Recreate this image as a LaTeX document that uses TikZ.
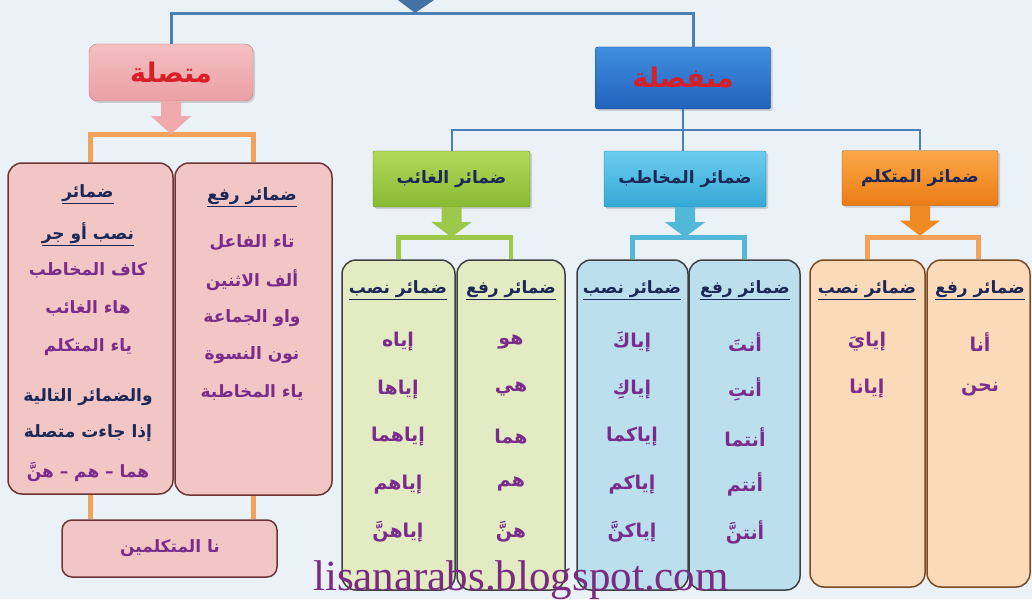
\documentclass[tikz,border=0pt]{standalone}
\usepackage{fontspec}
\setmainfont{Liberation Serif}
\newfontfamily\arabicfont[Script=Arabic]{DejaVu Sans}
\TeXXeTstate=1
\usetikzlibrary{calc,shadows}

\definecolor{bgcol}{HTML}{EAF2F8}
\definecolor{linkblue}{HTML}{4A80B6}
\definecolor{navy}{HTML}{1C2858}
\definecolor{purp}{HTML}{7A2C8C}
\definecolor{redtxt}{HTML}{D81E26}
\definecolor{pinkfill}{HTML}{F1C6C4}
\definecolor{pinkline}{HTML}{6E3535}
\definecolor{pinkarr}{HTML}{F0A9AD}
\definecolor{pinktop}{HTML}{F5BFC2}
\definecolor{pinkbot}{HTML}{EBA0A5}
\definecolor{munftop}{HTML}{3F8EE0}
\definecolor{munfbot}{HTML}{2262BC}
\definecolor{orbr}{HTML}{F2A25A}
\definecolor{greenfill}{HTML}{E2EBC2}
\definecolor{greenbr}{HTML}{9CC84C}
\definecolor{greentop}{HTML}{B2D95A}
\definecolor{greenbot}{HTML}{88BA32}
\definecolor{bluefill}{HTML}{BCDFEE}
\definecolor{bluebr}{HTML}{52B8D9}
\definecolor{bluetop}{HTML}{6CCDEE}
\definecolor{bluebot}{HTML}{34A9D6}
\definecolor{orfill}{HTML}{FBDAB9}
\definecolor{orline}{HTML}{7A4A22}
\definecolor{orarr}{HTML}{EF8A22}
\definecolor{ortop}{HTML}{FBA848}
\definecolor{orbot}{HTML}{EC7C14}
\definecolor{wmark}{HTML}{7B2A82}

\newcommand{\ar}[1]{{\arabicfont\bfseries\beginR #1\endR}}
% block arrow under a header box
\newcommand{\blockarrow}[4]{%
  \fill[#2] (#1.south) ++(-10,0) -- ++(0,#3) -- ++(-10,0) -- ++(20,#4)
    -- ++(20,-#4) -- ++(-10,0) -- ++(0,-#3) -- cycle;}

\begin{document}
\begin{tikzpicture}[x=1pt,y=-1pt,
  col/.style={draw, line width=1.5pt, rounded corners=14pt, minimum height=330pt, inner sep=0pt},
  head/.style={rounded corners=2pt, minimum height=56pt, inner sep=0pt, text=navy,
    font=\fontsize{17}{20}\selectfont,
    drop shadow={opacity=0.3, shadow xshift=2pt, shadow yshift=-2pt}},
  title/.style={text=redtxt, font=\fontsize{27}{30}\selectfont},
  hdtxt/.style={font=\fontsize{17}{20}\selectfont, text=navy},
  itm/.style={font=\fontsize{19}{22}\selectfont, text=purp},
  pitm/.style={font=\fontsize{17}{20}\selectfont, text=purp},
  link/.style={linkblue, line width=3pt},
  brack/.style={line width=4.5pt}]
	\fill[bgcol] (0,0) rectangle (1032,599);
	\useasboundingbox (0,0) rectangle (1032,599);

	% top level
	\fill[linkblue!90!black] (398,0) -- (434,0) -- (415,13) -- cycle;
	\coordinate (top) at (415,14);
	\node[head, title, rounded corners=8pt, minimum width=164pt, minimum height=57pt,
	  top color=pinktop, bottom color=pinkbot, draw=pinkbot!80!black]
	  (mutt) at (171,72.5) {\ar{متصلة}};
	\node[head, title, minimum width=175pt, minimum height=62pt,
	  top color=munftop, bottom color=munfbot, draw=munfbot!70!black]
	  (munf) at (683,78) {\ar{منفصلة}};
	\draw[link] (mutt.north) |- (top) -| ([xshift=10pt]munf.north);

	% second level
	\node[head, minimum width=157pt, top color=greentop, bottom color=greenbot, draw=greenbot!70!black]
	  (ghead) at (451.5,179) {\ar{ضمائر الغائب}};
	\node[head, minimum width=162pt, top color=bluetop, bottom color=bluebot, draw=bluebot!70!black]
	  (bhead) at (685,179) {\ar{ضمائر المخاطب}};
	\node[head, minimum width=156pt, minimum height=55pt, top color=ortop, bottom color=orbot, draw=orbot!70!black]
	  (ohead) at (920,178) {\ar{ضمائر المتكلم}};
	\coordinate (split) at ($(munf.south)!0.5!(bhead.north)$);
	\draw[link, line width=2pt] (munf.south) -- (munf.south |- bhead.north);
	\draw[link, line width=2pt] (ghead.north) |- (split) -| (ohead.north);

	% attached (pink) group
	\node[col, fill=pinkfill, draw=pinkline, minimum width=165pt, minimum height=331pt] (pl) at (90.5,328.5) {};
	\node[col, fill=pinkfill, draw=pinkline, minimum width=157pt, minimum height=332pt] (pr) at (253.5,329) {};
	\node[col, rounded corners=10pt, fill=pinkfill, draw=pinkline, minimum width=215pt, minimum height=57pt] (na) at (169.5,548.5) {};
	\draw[brack, orbr] (pl.north) -- ++(0,-28) -| (pr.north);
	\draw[brack, orbr] (pl.south) -- (pl.south |- na.north);
	\draw[brack, orbr] (pr.south) -- (pr.south |- na.north);
	\blockarrow{mutt}{pinkarr}{15}{18}

	\node[hdtxt] (plh1) at (88,194) {\underline{\ar{ضمائر}}};
	\node[hdtxt] (plh2) at (88,234) {\underline{\ar{نصب أو جر}}};
	\node[pitm] (pl1) at (88,270) {\ar{كاف المخاطب}};
	\node[pitm] (pl2) at (88,308) {\ar{هاء الغائب}};
	\node[pitm] (pl3) at (88,347) {\ar{ياء المتكلم}};
	\node[hdtxt] (pl4) at (88,397) {\ar{والضمائر التالية}};
	\node[hdtxt] (pl5) at (88,433) {\ar{إذا جاءت متصلة}};
	\node[pitm] (pl6) at (88,472) {\ar{هما – هم – هنَّ}};

	\node[hdtxt] (prh) at (252,197) {\underline{\ar{ضمائر رفع}}};
	\foreach \t [count=\i] in {تاء الفاعل, ألف الاثنين, واو الجماعة, نون النسوة, ياء المخاطبة}
		\node[pitm] (pr\i) at (252,{205.5+37.5*\i}) {\ar{\t}};
	\node[pitm] (natxt) at (170,548) {\ar{نا المتكلمين}};

	% absent (green) group
	\node[col, fill=greenfill, draw=black!75] (gl) at (398.5,425) [minimum width=113pt] {};
	\node[col, fill=greenfill, draw=black!75] (gr) at (511,425) [minimum width=108pt] {};
	\draw[brack, greenbr] (gl.north) -- ++(0,-22) -| (gr.north);
	\blockarrow{ghead}{greenbr}{15}{15}
	\node[hdtxt] (glh) at (398,290) {\underline{\ar{ضمائر نصب}}};
	\node[hdtxt] (grh) at (511,290) {\underline{\ar{ضمائر رفع}}};
	\foreach \t [count=\i] in {إياه, إياها, إياهما, إياهم, إياهنَّ}
		\node[itm] (gl\i) at (398,{294.5+47.5*\i}) {\ar{\t}};
	\foreach \t [count=\i] in {هو, هي, هما, هم, هنَّ}
		\node[itm] (gr\i) at (511,{294.5+47.5*\i}) {\ar{\t}};

	% addressee (blue) group
	\node[col, fill=bluefill, draw=black!75] (bl) at (632.5,425) [minimum width=111pt] {};
	\node[col, fill=bluefill, draw=black!75] (br) at (744.5,425) [minimum width=111pt] {};
	\draw[brack, bluebr] (bl.north) -- ++(0,-22) -| (br.north);
	\blockarrow{bhead}{bluebr}{15}{15}
	\node[hdtxt] (blh) at (632,290) {\underline{\ar{ضمائر نصب}}};
	\node[hdtxt] (brh) at (745,290) {\underline{\ar{ضمائر رفع}}};
	\foreach \t [count=\i] in {إياكَ, إياكِ, إياكما, إياكم, إياكنَّ}
		\node[itm] (bl\i) at (632,{294.5+47.5*\i}) {\ar{\t}};
	\foreach \t [count=\i] in {أنتَ, أنتِ, أنتما, أنتم, أنتنَّ}
		\node[itm] (br\i) at (745,{294.5+47.5*\i}) {\ar{\t}};

	% speaker (orange) group
	\node[col, fill=orfill, draw=orline, minimum height=327pt] (ol) at (867.5,423.5) [minimum width=115pt] {};
	\node[col, fill=orfill, draw=orline, minimum height=327pt] (or) at (978.5,423.5) [minimum width=103pt] {};
	\draw[brack, orbr] (ol.north) -- ++(0,-22) -| (or.north);
	\blockarrow{ohead}{orarr}{15}{15}
	\node[hdtxt] (olh) at (867,290) {\underline{\ar{ضمائر نصب}}};
	\node[hdtxt] (orh) at (980,290) {\underline{\ar{ضمائر رفع}}};
	\node[itm] (ol1) at (867,342) {\ar{إيايَ}};
	\node[itm] (ol2) at (867,389) {\ar{إيانا}};
	\node[itm] (or1) at (980,342) {\ar{أنا}};
	\node[itm] (or2) at (980,389) {\ar{نحن}};

	% watermark
	\node[font=\fontsize{43}{45}\selectfont, text=wmark, anchor=base, inner sep=0pt] (site) at (521,590) {lisanarabs.blogspot.com};
\end{tikzpicture}
\end{document}
